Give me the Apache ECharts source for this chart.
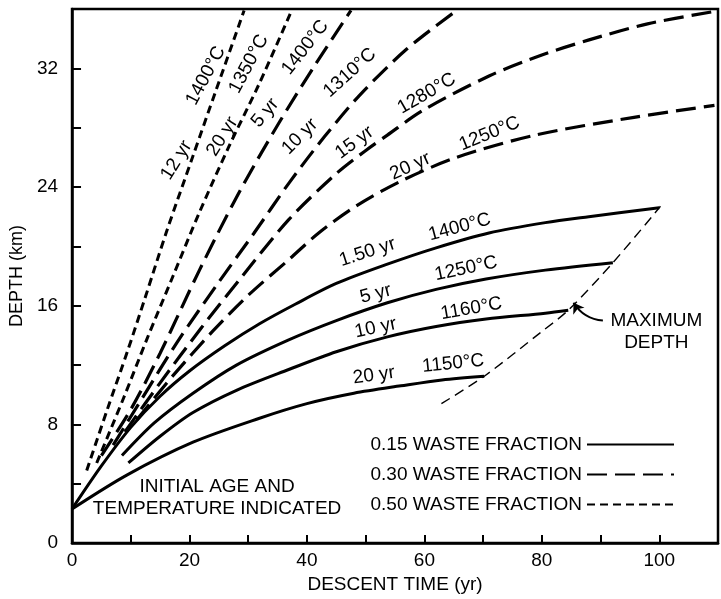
<!DOCTYPE html>
<html>
<head>
<meta charset="utf-8">
<script src="https://cdn.jsdelivr.net/npm/echarts@6/dist/echarts.min.js"></script>
<style>
html,body{margin:0;padding:0;background:#fff;}
#chart{width:721px;height:599px;}
</style>
</head>
<body>
<div id="chart"></div>
<script>
// ---- data (descent time yr, depth km) ----
const waste015_150yr = [[0,2.3],[5,5.2],[10,7.8],[15,9.9],[20,11.6],[26,13.3],[32,14.8],[38,16.1],[45,17.5],[53.7,18.8],[62,19.9],[71,20.9],[80.6,21.6],[88,22.0],[100,22.6]];
const waste015_5yr = [[8.5,5.9],[14,8.1],[20.6,10.1],[28,12.0],[36.9,13.7],[45,15.0],[53.7,16.2],[62,17.1],[70.5,17.8],[80.6,18.4],[92.1,18.9]];
const waste015_10yr = [[9.6,5.4],[15,7.2],[20.6,8.8],[28,10.3],[36.9,11.7],[45,12.9],[53.7,13.9],[62,14.6],[70.5,15.1],[80.6,15.5],[84.5,15.7]];
const waste015_20yr = [[0,2.3],[9.4,4.6],[20.6,6.8],[31.8,8.4],[40,9.4],[48,10.1],[56,10.6],[63,11.0],[70.2,11.25]];

const waste030_5yr = [[5,5.9],[10,9.0],[15,12.8],[21.7,18.4],[28.4,23.6],[35.2,28.3],[41.5,32.3],[47.5,35.9]];
const waste030_10yr = [[7,6.6],[12,9.8],[18,13.6],[25,17.6],[31,20.9],[37,24.3],[43,27.4],[49,30.2],[57,33.3],[65.5,35.9]];
const waste030_15yr = [[9,7.5],[15,10.8],[22,14.5],[29,18.0],[36.9,21.8],[44.7,24.8],[49.8,26.4],[53.7,27.5],[59.9,29.2],[71.1,31.5],[80,32.9],[87.9,33.9],[98,35.0],[108.9,35.8]];
const waste030_20yr = [[11,8.3],[17,11.2],[24,14.3],[30,16.7],[36.9,19.1],[42,20.9],[48.3,22.7],[56,24.4],[65.5,26.0],[78.9,27.5],[95.7,28.7],[109.4,29.5]];

const waste050_12yr = [[2.5,4.9],[6,9.0],[9.5,13.0],[12.5,16.6],[16.1,21.0],[20.6,26.1],[24.5,30.5],[29.3,35.9]];
const waste050_20yr = [[4.2,5.4],[8.8,9.8],[12.7,13.7],[17.2,18.0],[21.7,22.3],[26.8,26.8],[31.8,30.9],[37.4,35.9]];

const maxDepth = [[62.9,9.4],[70.2,11.25],[79.8,14.2],[84.5,15.7],[92.1,18.9],[100.2,22.7]];

const legendNames = ['0.15 WASTE FRACTION','0.30 WASTE FRACTION','0.50 WASTE FRACTION'];
const xTickLabels = [0,20,40,60,80,100];
const yTickLabels = [0,8,16,24,32];

// curve annotations: text, x, y, angle
const curveLabelText = ['12 yr','1400°C','20 yr','1350°C','5 yr','1400°C','10 yr','1310°C','15 yr','1280°C','20 yr','1250°C',
  '1.50 yr','1400°C','5 yr','1250°C','10 yr','1160°C','20 yr','1150°C'];
const curveLabelX = [17.8,22.8,25.6,30.1,32.9,39.7,38.8,47.3,48.1,60.4,57.6,71.1,50.3,66.0,51.7,67.1,51.7,68.0,51.4,64.9];
const curveLabelY = [25.8,31.5,27.4,32.3,29.0,33.4,27.4,31.7,27.0,30.3,25.4,27.6,19.6,21.3,16.8,18.5,14.5,15.8,11.3,12.1];
const curveLabelAngle = [58,62,58,62,50,52,45,42,36,30,25,22,18,15,15,12,12,10,8,6];

const FONT = 'Liberation Sans';
const chart = echarts.init(document.getElementById('chart'), null, {renderer:'canvas'});

function lineSeries(name, data, type, width){
  return {name:name, type:'line', data:data, smooth:0.3, symbol:'none', showSymbol:false, silent:true,
    itemStyle:{color:'#000'},
    lineStyle:{color:'#000', width:width, type:type, cap:'butt'}, z:3};
}
const LONG=[20,8], SHORT=[8,5];
const labelBase = {show:true, position:'inside', color:'#000', fontFamily:FONT, fontSize:19,
  textBorderWidth:0, textBorderColor:'transparent', textShadowBlur:0, opacity:1};
const series = [
  lineSeries(legendNames[0], waste015_150yr, 'solid', 3),
  lineSeries(legendNames[0], waste015_5yr, 'solid', 3),
  lineSeries(legendNames[0], waste015_10yr, 'solid', 3),
  lineSeries(legendNames[0], waste015_20yr, 'solid', 3),
  lineSeries(legendNames[1], waste030_5yr, LONG, 3.2),
  lineSeries(legendNames[1], waste030_10yr, LONG, 3.2),
  lineSeries(legendNames[1], waste030_15yr, LONG, 3.2),
  lineSeries(legendNames[1], waste030_20yr, LONG, 3.2),
  lineSeries(legendNames[2], waste050_12yr, SHORT, 3),
  lineSeries(legendNames[2], waste050_20yr, SHORT, 3),
  lineSeries('max', maxDepth, [10,6], 1.4),
  {
    type:'scatter', name:'labels', symbolSize:0, silent:true, z:5,
    itemStyle:{color:'#000', opacity:1},
    data: curveLabelText.map((t,i)=>({value:[curveLabelX[i],curveLabelY[i]], label:{formatter:t, rotate:curveLabelAngle[i], color:'#000'}})),
    label:labelBase
  },
  {
    type:'scatter', name:'notes', symbolSize:0, silent:true, z:5,
    itemStyle:{color:'#000', opacity:1},
    data:[
      {value:[99.5,14.25], label:{formatter:'MAXIMUM\nDEPTH', color:'#000'}},
      {value:[24.7,3.05], label:{formatter:'INITIAL AGE AND\nTEMPERATURE INDICATED', color:'#000'}}
    ],
    label:Object.assign({}, labelBase, {lineHeight:22, align:'center'})
  },
  {
    type:'lines', coordinateSystem:'cartesian2d', silent:true, z:5,
    symbol:['none','arrow'], symbolSize:10,
    lineStyle:{color:'#000', width:2, curveness:0.25, opacity:1},
    data:[{coords:[[90.4,15.0],[85.4,16.2]]}]
  }
];

chart.setOption({
  animation:false,
  backgroundColor:'#fff',
  textStyle:{fontFamily:FONT},
  grid:{left:71, top:9, right:-4, bottom:54, show:true, borderColor:'#000', borderWidth:2.5, backgroundColor:'transparent'},
  legend:{
    data:legendNames, orient:'vertical', right:41, top:430, align:'right', selectedMode:false,
    itemWidth:87, itemHeight:20, itemGap:11,
    itemStyle:{opacity:0},
    lineStyle:{color:'#000'},
    textStyle:{fontSize:19, color:'#000', fontFamily:FONT}
  },
  xAxis:{
    type:'value', min:0, max:110, interval:10,
    name:'DESCENT TIME (yr)', nameLocation:'middle', nameGap:29,
    nameTextStyle:{fontSize:19, color:'#000', fontFamily:FONT},
    axisLine:{lineStyle:{color:'#000', width:2.5}},
    axisTick:{inside:true, length:8, lineStyle:{color:'#000', width:2}},
    axisLabel:{fontSize:19, color:'#000', margin:8, fontFamily:FONT,
      formatter:v => xTickLabels.indexOf(v) >= 0 ? String(v) : ''},
    splitLine:{show:false}
  },
  yAxis:{
    type:'value', min:0, max:36, interval:4,
    name:'DEPTH (km)', nameLocation:'middle', nameGap:40, nameRotate:90,
    nameTextStyle:{fontSize:18, color:'#000', fontFamily:FONT},
    axisLine:{lineStyle:{color:'#000', width:2.5}},
    axisTick:{inside:true, length:9, lineStyle:{color:'#000', width:2}},
    axisLabel:{fontSize:19, color:'#000', margin:14, fontFamily:FONT,
      formatter:v => yTickLabels.indexOf(v) >= 0 ? String(v) : ''},
    splitLine:{show:false}
  },
  series:series
});
</script>
</body>
</html>
